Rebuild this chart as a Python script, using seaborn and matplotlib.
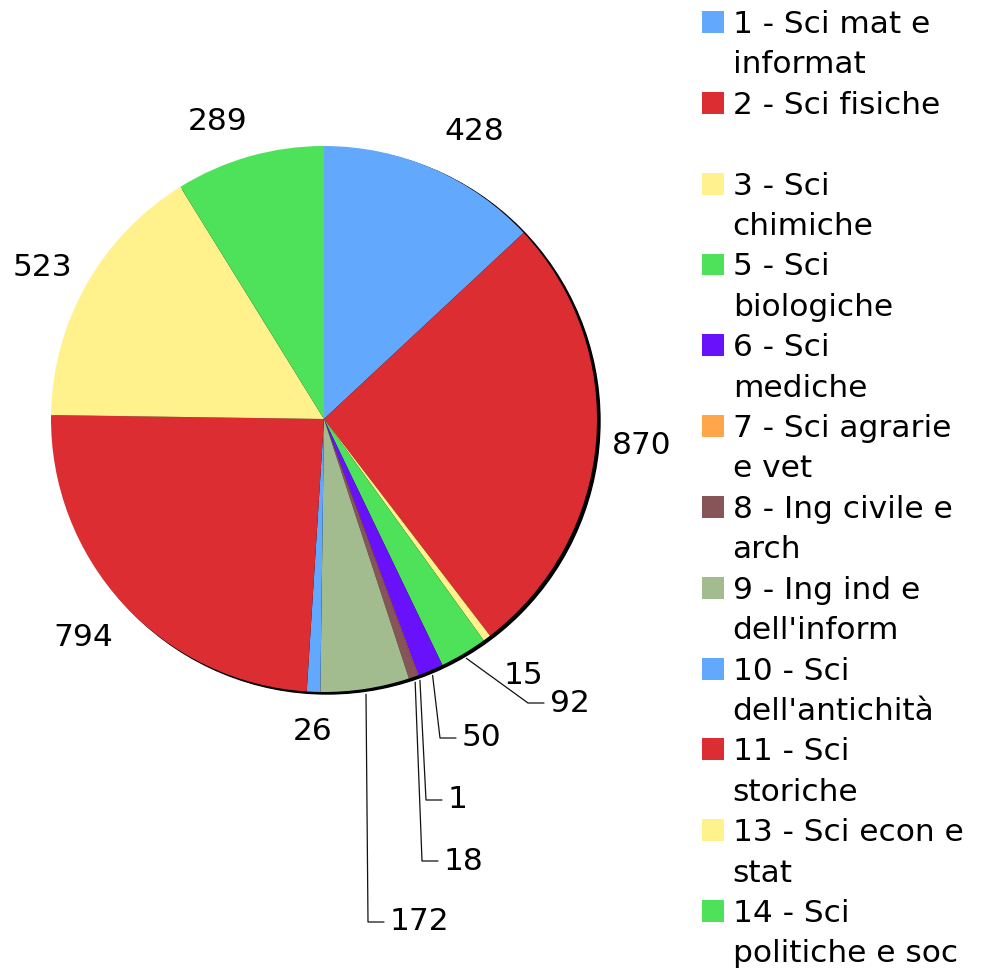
import numpy as np
import pandas as pd
import seaborn as sns
import matplotlib.pyplot as plt
from matplotlib.patches import Patch, Circle

# ===== dati =====
categorie = [
    "1 - Sci mat e\ninformat",
    "2 - Sci fisiche",
    "3 - Sci\nchimiche",
    "5 - Sci\nbiologiche",
    "6 - Sci\nmediche",
    "7 - Sci agrarie\ne vet",
    "8 - Ing civile e\narch",
    "9 - Ing ind e\ndell'inform",
    "10 - Sci\ndell'antichità",
    "11 - Sci\nstoriche",
    "13 - Sci econ e\nstat",
    "14 - Sci\npolitiche e soc",
]
valori = [428, 870, 15, 92, 50, 1, 18, 172, 26, 794, 523, 289]
colori = ["#62a8fc", "#dc2d33", "#fff28c", "#4ee25b", "#6a11fb", "#ffa64a",
          "#875558", "#a2bc8f", "#62a8fc", "#dc2d33", "#fff28c", "#4ee25b"]

# ===== layout (pixel) =====
W, H = 983, 969
CX, CY, R = 324, 419, 273
# posizione etichette: (x, y, con linea guida)
pos_etichette = [
    (474, 131, False), (642, 446, False), (523, 675, False), (552, 703, True),
    (464, 738, True), (450, 800, True), (446, 861, True), (392, 922, True),
    (313, 732, False), (83, 638, False), (42, 268, False), (218, 121, False),
]


def px(x, y):
    return (x - CX) / R, (CY - y) / R


sns.set_style("white")
plt.rcParams['font.family'] = ['DejaVu Sans']
plt.rcParams['text.color'] = 'black'
FS = 22.5

fig = plt.figure(figsize=(W / 100, H / 100), dpi=100)
ax = fig.add_axes([0, 0, 1, 1])

# ombra
ax.add_patch(Circle(px(CX + 3, CY + 2), 1.0, color="black", zorder=0))

wedges, _ = ax.pie(valori, colors=colori, startangle=90, counterclock=False,
                   radius=1.0, wedgeprops=dict(linewidth=0))

for w, v, (tx, ty, linea) in zip(wedges, valori, pos_etichette):
    if linea:
        ang = np.deg2rad((w.theta1 + w.theta2) / 2)
        x0, y0 = 1.02 * np.cos(ang), 1.02 * np.sin(ang)
        x1, y1 = px(tx - 24, ty)
        x2, y2 = px(tx - 8, ty)
        ax.plot([x0, x1, x2], [y0, y1, y2], color="#111111", lw=0.9, zorder=3)
        ax.text(*px(tx - 2, ty), str(v), fontsize=FS, ha="left", va="center")
    else:
        ax.text(*px(tx, ty), str(v), fontsize=FS, ha="center", va="center")

ax.set_xlim(-CX / R, (W - CX) / R)
ax.set_ylim(-(H - CY) / R, CY / R)
ax.set_aspect("equal")
ax.axis("off")

# ===== legenda (una riga per linea di testo) =====
handles, labels = [], []
vuoto = Patch(facecolor="none", edgecolor="none")
for i, (cat, col) in enumerate(zip(categorie, colori)):
    righe = cat.split("\n")
    handles.append(Patch(facecolor=col, edgecolor="none"))
    labels.append(righe[0])
    for r in righe[1:]:
        handles.append(vuoto)
        labels.append(r)
    if i == 1:
        handles.append(vuoto)
        labels.append(" ")

fig.legend(handles, labels, loc="upper left", bbox_to_anchor=(702 / W, 1 - 10 / H),
           frameon=False, fontsize=FS, borderpad=0, borderaxespad=0,
           handlelength=0.7, handleheight=0.7, handletextpad=0.28,
           labelspacing=0.365, labelcolor="black")

fig.savefig("out.png", dpi=100)
